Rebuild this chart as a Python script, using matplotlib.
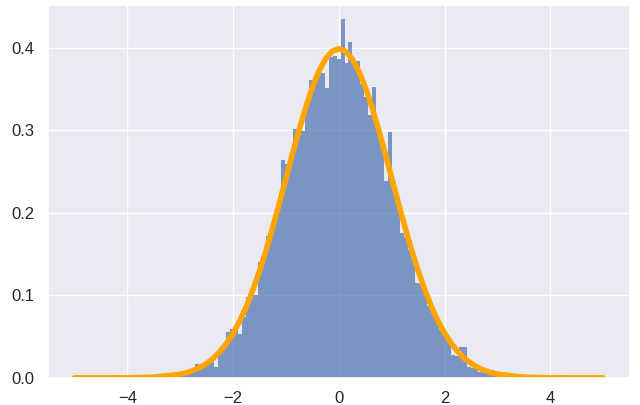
import numpy as np
import matplotlib
matplotlib.use('Agg')
import matplotlib.pyplot as plt
import seaborn as sns

sns.set_theme()
plt.rcParams['font.family'] = ['Liberation Sans', 'DejaVu Sans']

# histogram bins
bin_start = -3.246
bin_width = 0.0745
bar_heights = [
    0.0027, 0.0, 0.0040, 0.0054, 0.0067, 0.0081, 0.0094, 0.0165, 0.0134, 0.0161,
    0.0188, 0.0228, 0.0134, 0.0322, 0.0376, 0.0550, 0.0590, 0.0605, 0.0537, 0.0739,
    0.0980, 0.1007, 0.1007, 0.1410, 0.1504, 0.1720, 0.1760, 0.1920, 0.2100, 0.2640,
    0.2590, 0.2600, 0.3020, 0.3000, 0.2990, 0.3370, 0.3610, 0.3650, 0.3680, 0.3700,
    0.3510, 0.3890, 0.3900, 0.3870, 0.4350, 0.3810, 0.4070, 0.3850, 0.3840, 0.3560,
    0.3400, 0.3180, 0.3520, 0.3080, 0.2850, 0.2380, 0.2980, 0.2290, 0.2100, 0.1760,
    0.1710, 0.1550, 0.1450, 0.1150, 0.1140, 0.1040, 0.0870, 0.0780, 0.0680, 0.0580,
    0.0510, 0.0440, 0.0280, 0.0270, 0.0380, 0.0380, 0.0130, 0.0120, 0.0110, 0.0070,
    0.0070, 0.0050, 0.0090, 0.0027, 0.0, 0.0013,
]

# orange density curve, right half (mirrored for the left)
half_x = [0, 0.125, 0.25, 0.375, 0.5, 0.625, 0.75, 0.875, 1.0, 1.125, 1.25, 1.375,
          1.5, 1.625, 1.75, 1.875, 2.0, 2.125, 2.25, 2.375, 2.5, 2.625, 2.75, 2.875,
          3.0, 3.5, 4.0, 4.5, 5.0]
half_y = [0.3989, 0.3958, 0.3867, 0.3720, 0.3521, 0.3282, 0.3011, 0.2721, 0.2420,
          0.2119, 0.1826, 0.1549, 0.1295, 0.1067, 0.0863, 0.0688, 0.0540, 0.0417,
          0.0317, 0.0237, 0.0175, 0.0127, 0.0091, 0.0064, 0.0044, 0.0009, 0.0001,
          0.0000, 0.0000]

curve_x = [-v for v in half_x[:0:-1]] + half_x
curve_y = half_y[:0:-1] + half_y

edges = bin_start + bin_width * np.arange(len(bar_heights) + 1)
centers = (edges[:-1] + edges[1:]) / 2

fig = plt.figure(figsize=(6.4, 4.05), dpi=100)
ax = fig.add_axes([0.075, 0.067, 0.909, 0.921])

ax.hist(centers, bins=edges, weights=bar_heights, color='#4C72B0', alpha=0.7,
        linewidth=0, edgecolor='none')
ax.plot(curve_x, curve_y, color='orange', lw=4)

ax.set_xlim(-5.5, 5.5)
ax.set_ylim(0, 0.452)
ax.set_yticks([0.0, 0.1, 0.2, 0.3, 0.4])
ax.tick_params(labelsize=12)

fig.savefig('out.png')
